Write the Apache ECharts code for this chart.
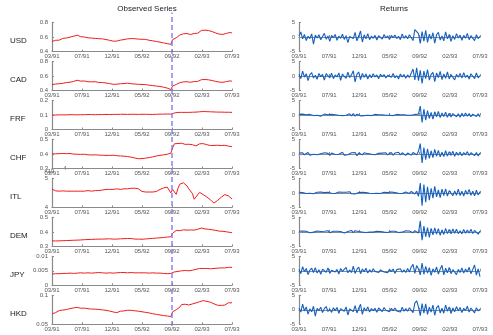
<!DOCTYPE html>
<html>
<head>
<meta charset="utf-8">
<script src="https://cdn.jsdelivr.net/npm/echarts@6/dist/echarts.min.js"></script>
<style>
html, body { margin: 0; padding: 0; background: #fff; }
#show_picture { width: 493px; height: 335px; }
</style>
</head>
<body>
<div id="show_picture"></div>
<script>
// x axis is the observation index, ticks every 100 obs
const tickLabels = ['03/91', '07/91', '12/91', '05/92', '09/92', '02/93', '07/93'];
const currencies = ['USD', 'CAD', 'FRF', 'CHF', 'ITL', 'DEM', 'JPY', 'HKD'];
const obsStep = 6;       // spacing of the sampled points (in observations)
const breakObs = 400;    // 09/92, the dashed line

// observed series (levels)
const usd = [
    0.540, 0.548, 0.556, 0.562, 0.558, 0.570, 0.582, 0.578, 0.588, 0.592,
    0.600, 0.604, 0.612, 0.620, 0.626, 0.618, 0.605, 0.598, 0.602, 0.592,
    0.590, 0.594, 0.586, 0.588, 0.582, 0.585, 0.578, 0.580, 0.576, 0.572,
    0.566, 0.562, 0.556, 0.550, 0.544, 0.536, 0.545, 0.552, 0.558, 0.556,
    0.566, 0.572, 0.576, 0.582, 0.580, 0.584, 0.578, 0.575, 0.572, 0.574,
    0.570, 0.566, 0.568, 0.560, 0.556, 0.552, 0.548, 0.546, 0.540, 0.536,
    0.530, 0.526, 0.520, 0.516, 0.510, 0.503, 0.500, 0.565, 0.575, 0.590,
    0.612, 0.628, 0.640, 0.646, 0.642, 0.648, 0.640, 0.636, 0.645, 0.650,
    0.658, 0.654, 0.680, 0.692, 0.700, 0.696, 0.702, 0.690, 0.684, 0.676,
    0.668, 0.656, 0.646, 0.640, 0.642, 0.638, 0.648, 0.652, 0.660, 0.664, 0.656
];
const cad = [
    0.482, 0.486, 0.490, 0.488, 0.494, 0.498, 0.500, 0.506, 0.510, 0.512,
    0.515, 0.520, 0.526, 0.534, 0.542, 0.538, 0.530, 0.528, 0.532, 0.524,
    0.522, 0.526, 0.520, 0.518, 0.522, 0.515, 0.512, 0.516, 0.510, 0.506,
    0.504, 0.500, 0.496, 0.490, 0.486, 0.480, 0.488, 0.492, 0.494, 0.490,
    0.496, 0.500, 0.502, 0.498, 0.494, 0.496, 0.490, 0.488, 0.486, 0.488,
    0.484, 0.480, 0.482, 0.476, 0.474, 0.470, 0.468, 0.466, 0.462, 0.460,
    0.456, 0.452, 0.446, 0.440, 0.434, 0.424, 0.414, 0.462, 0.472, 0.484,
    0.496, 0.508, 0.514, 0.520, 0.516, 0.522, 0.518, 0.514, 0.520, 0.524,
    0.528, 0.526, 0.540, 0.550, 0.556, 0.552, 0.558, 0.548, 0.544, 0.538,
    0.532, 0.526, 0.520, 0.516, 0.518, 0.514, 0.520, 0.524, 0.530, 0.534, 0.528
];
const frf = [
    0.100, 0.101, 0.100, 0.101, 0.101, 0.100, 0.101, 0.102, 0.101, 0.101,
    0.102, 0.101, 0.102, 0.102, 0.101, 0.102, 0.102, 0.103, 0.102, 0.102,
    0.103, 0.102, 0.103, 0.103, 0.102, 0.103, 0.103, 0.104, 0.103, 0.103,
    0.104, 0.104, 0.103, 0.104, 0.104, 0.103, 0.104, 0.104, 0.105, 0.104,
    0.105, 0.105, 0.104, 0.105, 0.105, 0.104, 0.105, 0.105, 0.104, 0.105,
    0.105, 0.104, 0.105, 0.104, 0.104, 0.105, 0.104, 0.104, 0.105, 0.105,
    0.106, 0.106, 0.106, 0.107, 0.107, 0.107, 0.106, 0.112, 0.114, 0.116,
    0.118, 0.117, 0.118, 0.119, 0.118, 0.119, 0.118, 0.118, 0.119, 0.120,
    0.120, 0.121, 0.122, 0.123, 0.124, 0.123, 0.123, 0.122, 0.122, 0.121,
    0.121, 0.120, 0.120, 0.119, 0.120, 0.119, 0.119, 0.120, 0.119, 0.118, 0.118
];
const chf = [
    0.400, 0.402, 0.401, 0.399, 0.402, 0.401, 0.403, 0.400, 0.402, 0.404,
    0.403, 0.401, 0.399, 0.400, 0.398, 0.399, 0.397, 0.396, 0.398, 0.395,
    0.394, 0.396, 0.393, 0.392, 0.394, 0.391, 0.392, 0.390, 0.391, 0.389,
    0.390, 0.392, 0.390, 0.393, 0.391, 0.389, 0.388, 0.389, 0.386, 0.387,
    0.385, 0.384, 0.382, 0.380, 0.378, 0.375, 0.372, 0.369, 0.367, 0.366,
    0.368, 0.369, 0.371, 0.373, 0.375, 0.378, 0.380, 0.383, 0.386, 0.388,
    0.390, 0.392, 0.394, 0.396, 0.398, 0.402, 0.405, 0.442, 0.470, 0.478,
    0.472, 0.468, 0.474, 0.470, 0.466, 0.462, 0.467, 0.470, 0.464, 0.458,
    0.455, 0.462, 0.470, 0.468, 0.471, 0.466, 0.464, 0.460, 0.458, 0.456,
    0.459, 0.462, 0.460, 0.456, 0.458, 0.455, 0.460, 0.458, 0.454, 0.452, 0.450
];
const itl = [
    4.63, 4.60, 4.57, 4.54, 4.56, 4.58, 4.57, 4.55, 4.56, 4.55,
    4.56, 4.55, 4.56, 4.57, 4.56, 4.55, 4.56, 4.57, 4.56, 4.57,
    4.58, 4.57, 4.56, 4.57, 4.58, 4.57, 4.58, 4.59, 4.60, 4.61,
    4.62, 4.61, 4.62, 4.63, 4.62, 4.63, 4.64, 4.63, 4.62, 4.63,
    4.64, 4.63, 4.64, 4.65, 4.66, 4.67, 4.66, 4.67, 4.64, 4.58,
    4.55, 4.54, 4.53, 4.54, 4.53, 4.54, 4.53, 4.54, 4.55, 4.56,
    4.62, 4.65, 4.67, 4.69, 4.70, 4.71, 4.50, 4.62, 4.60, 4.45,
    4.66, 4.80, 4.86, 4.85, 4.82, 4.74, 4.64, 4.58, 4.48, 4.28,
    4.36, 4.42, 4.52, 4.56, 4.44, 4.40, 4.36, 4.32, 4.26, 4.20,
    4.15, 4.18, 4.24, 4.30, 4.35, 4.40, 4.44, 4.47, 4.40, 4.36, 4.29
];
const dem = [
    0.338, 0.336, 0.337, 0.339, 0.338, 0.340, 0.339, 0.341, 0.340, 0.342,
    0.341, 0.343, 0.342, 0.344, 0.343, 0.345, 0.344, 0.345, 0.346, 0.345,
    0.347, 0.346, 0.348, 0.347, 0.349, 0.348, 0.350, 0.351, 0.350, 0.352,
    0.351, 0.350, 0.352, 0.351, 0.350, 0.349, 0.350, 0.351, 0.352, 0.351,
    0.353, 0.352, 0.354, 0.353, 0.354, 0.352, 0.350, 0.349, 0.350, 0.348,
    0.349, 0.350, 0.351, 0.352, 0.353, 0.354, 0.355, 0.356, 0.357, 0.358,
    0.359, 0.360, 0.361, 0.362, 0.364, 0.365, 0.366, 0.390, 0.402, 0.410,
    0.412, 0.408, 0.411, 0.414, 0.410, 0.412, 0.409, 0.413, 0.415, 0.412,
    0.414, 0.418, 0.422, 0.426, 0.424, 0.420, 0.421, 0.418, 0.416, 0.414,
    0.412, 0.410, 0.407, 0.405, 0.406, 0.404, 0.402, 0.400, 0.398, 0.396, 0.394
];
const jpy = [
    0.0039, 0.0039, 0.0040, 0.0040, 0.0040, 0.0041, 0.0041, 0.0041, 0.0041, 0.0042,
    0.0042, 0.0042, 0.0041, 0.0042, 0.0042, 0.0042, 0.0043, 0.0042, 0.0042, 0.0043,
    0.0043, 0.0043, 0.0042, 0.0043, 0.0043, 0.0043, 0.0044, 0.0043, 0.0043, 0.0043,
    0.0042, 0.0043, 0.0043, 0.0043, 0.0042, 0.0042, 0.0043, 0.0043, 0.0044, 0.0044,
    0.0044, 0.0044, 0.0043, 0.0044, 0.0044, 0.0044, 0.0043, 0.0043, 0.0043, 0.0044,
    0.0043, 0.0043, 0.0043, 0.0043, 0.0042, 0.0043, 0.0043, 0.0042, 0.0042, 0.0042,
    0.0042, 0.0041, 0.0041, 0.0040, 0.0040, 0.0040, 0.0041, 0.0045, 0.0046, 0.0047,
    0.0048, 0.0049, 0.0050, 0.0050, 0.0051, 0.0051, 0.0050, 0.0051, 0.0052, 0.0053,
    0.0055, 0.0057, 0.0058, 0.0058, 0.0058, 0.0057, 0.0058, 0.0058, 0.0057, 0.0058,
    0.0058, 0.0059, 0.0059, 0.0060, 0.0060, 0.0061, 0.0060, 0.0061, 0.0062, 0.0063, 0.0062
];
const hkd = [
    0.0680, 0.0695, 0.0700, 0.0720, 0.0735, 0.0728, 0.0745, 0.0740, 0.0752, 0.0760,
    0.0770, 0.0775, 0.0782, 0.0788, 0.0790, 0.0782, 0.0776, 0.0772, 0.0778, 0.0770,
    0.0768, 0.0765, 0.0762, 0.0758, 0.0760, 0.0752, 0.0755, 0.0750, 0.0748, 0.0745,
    0.0740, 0.0735, 0.0728, 0.0722, 0.0712, 0.0685, 0.0700, 0.0715, 0.0725, 0.0722,
    0.0730, 0.0735, 0.0742, 0.0745, 0.0740, 0.0738, 0.0732, 0.0728, 0.0725, 0.0720,
    0.0715, 0.0712, 0.0705, 0.0700, 0.0695, 0.0690, 0.0682, 0.0675, 0.0670, 0.0662,
    0.0660, 0.0655, 0.0650, 0.0648, 0.0642, 0.0638, 0.0632, 0.0715, 0.0735, 0.0750,
    0.0778, 0.0795, 0.0840, 0.0852, 0.0845, 0.0838, 0.0832, 0.0842, 0.0850, 0.0865,
    0.0868, 0.0862, 0.0888, 0.0902, 0.0908, 0.0900, 0.0895, 0.0892, 0.0880, 0.0865,
    0.0852, 0.0840, 0.0828, 0.0820, 0.0825, 0.0832, 0.0830, 0.0852, 0.0870, 0.0882, 0.0870
];

// returns
const usdRet = [
    0.4, 1.8, -0.6, 0.9, -1.2, 0.3, -0.5, 1.1, -2.4, 0.7,
    -0.3, 0.8, -0.9, 0.2, 1.3, -0.7, 0.4, -1.5, 0.6, -0.2,
    0.9, -1.1, 0.3, -0.4, 1.0, -0.8, 0.5, -1.9, 0.2, 0.7,
    -0.5, 1.6, -1.3, 0.4, 2.1, -1.7, 0.8, -0.6, 1.2, -0.9,
    0.3, -0.4, 0.6, -1.0, 0.5, 0.2, -0.7, 0.9, -0.3, 0.4,
    -0.8, 0.6, -0.2, 0.7, -0.5, 0.3, -0.9, 1.1, -0.4, 0.5,
    -0.6, 0.8, 1.4, -1.2, 2.6, 3.0, 1.2, -2.2, 1.9, -1.4,
    2.3, -1.8, 1.0, -0.7, 1.5, -2.1, 0.8, 1.6, -1.0, 0.4,
    -1.3, 1.8, -0.6, 0.9, -1.5, 0.5, -0.8, 1.2, -0.3, 0.7,
    -1.1, 0.6, -0.4, 1.3, -0.9, 0.5, 1.0, -1.2, 0.8, -0.5, 0.3
];
const cadRet = [
    0.6, -0.9, 1.7, -0.4, 0.8, -1.6, 0.5, 1.2, -0.7, 0.3,
    -1.1, 0.9, -0.2, 0.6, -1.4, 0.8, 0.2, -0.6, 1.0, -0.9,
    0.4, -0.3, 1.1, -1.5, 0.7, 0.2, -0.8, 1.3, -0.5, 0.4,
    1.8, -2.0, 0.6, 1.4, -1.2, 0.9, -0.4, 0.7, -1.0, 0.5,
    -0.6, 0.8, -0.3, 0.4, -0.9, 0.6, -0.2, 0.5, -0.7, 0.3,
    0.6, -0.4, 0.9, -0.6, 0.2, -1.0, 0.7, -0.3, 0.5, -0.8,
    0.4, -0.5, 1.0, 2.4, -1.3, 2.8, -1.6, 2.0, -2.5, 1.7,
    -0.9, 2.2, -1.4, 0.6, 1.3, -1.9, 1.1, -0.5, 1.6, -1.2,
    0.7, -0.8, 1.4, -1.0, 0.5, 1.1, -1.3, 0.6, -0.4, 0.9,
    -0.7, 1.2, -0.5, 0.3, -1.0, 0.8, 0.5, -0.9, 1.1, -0.6, 0.2
];
const frfRet = [
    0.2, -0.1, 0.3, -0.2, 0.1, -0.3, 0.2, 0.1, -0.2, 0.3,
    -0.1, 0.2, -0.4, 0.1, 0.3, -0.2, 0.1, -0.1, 0.2, -0.3,
    0.1, 0.2, -0.1, 0.3, -0.2, 0.1, -0.1, 0.2, 0.4, -0.3,
    0.5, -0.4, 0.3, 0.2, -0.3, 0.1, -0.2, 0.2, -0.1, 0.1,
    -0.2, 0.1, 0.2, -0.1, 0.1, -0.2, 0.1, 0.1, -0.1, 0.2,
    -0.1, 0.1, -0.2, 0.1, 0.2, -0.1, 0.1, -0.2, 0.1, 0.1,
    -0.1, 0.2, -0.1, 0.1, 0.2, -0.2, 0.3, 3.1, -2.6, 2.0,
    -1.8, 1.5, -1.2, 0.9, -1.4, 1.1, -0.6, 1.2, -0.9, 0.7,
    -0.5, 1.0, -0.8, 0.6, -0.7, 0.5, 0.9, -0.6, 0.4, -0.8,
    0.6, -0.5, 0.7, -0.4, 0.5, -0.6, 0.3, 0.8, -0.5, 0.4, -0.7
];
const chfRet = [
    0.3, -0.2, 0.4, -0.3, 0.1, 0.5, -0.4, 0.2, -0.1, 0.3,
    -0.3, 0.2, 0.1, -0.2, 0.4, -0.1, 0.2, -0.5, 0.3, 0.1,
    -0.2, 0.3, -0.1, 0.2, 0.6, -0.4, 0.2, -0.3, 0.1, 0.4,
    -0.2, 0.5, -0.6, 0.3, 0.2, -0.3, 0.4, -0.2, 0.1, 0.3,
    -0.1, 0.2, -0.3, 0.1, 0.2, -0.2, 0.3, -0.1, 0.4, -0.3,
    0.2, 0.5, -0.4, 0.3, -0.2, 0.6, -0.3, 0.4, 0.2, -0.5,
    0.3, 0.6, -0.4, 0.5, 0.7, -0.3, 0.9, 3.6, -3.1, 2.2,
    -2.0, 1.8, -1.5, 1.1, -1.3, 1.6, -0.8, 1.2, -1.0, 0.6,
    -0.9, 1.1, -0.7, 0.8, -0.5, 0.9, -0.8, 0.6, -0.4, 0.7,
    -0.6, 0.5, -0.3, 0.8, -0.5, 0.4, 0.9, -0.6, 0.5, -0.7, 0.3
];
const itlRet = [
    0.2, -0.3, 0.1, 0.4, -0.2, 0.3, -0.1, 0.2, -0.3, 0.1,
    0.2, -0.1, 0.3, -0.2, 0.1, -0.2, 0.2, 0.1, -0.1, 0.2,
    -0.2, 0.1, 0.3, -0.1, 0.2, -0.3, 0.2, 0.1, 0.4, -0.3,
    0.3, -0.4, 0.2, 0.1, -0.2, 0.2, -0.1, 0.1, 0.2, -0.1,
    0.1, -0.2, 0.2, -0.1, 0.3, -0.2, 0.1, 0.2, -0.3, 0.1,
    -0.4, 0.3, -0.2, 0.1, 0.2, -0.1, 0.3, -0.2, 0.2, 0.3,
    0.4, -0.2, 0.5, 0.3, -0.4, 0.6, -1.2, 3.4, -4.4, 2.9,
    -3.2, 2.1, -2.5, 1.6, -1.8, 2.3, -1.4, 1.0, -1.6, 1.3,
    -0.9, 1.4, -1.1, 0.8, 1.2, -1.0, 0.7, -0.8, 1.3, -0.9,
    0.6, -1.1, 0.9, -0.5, 1.2, -0.8, 0.6, -1.0, 0.9, -0.7, 0.4
];
const demRet = [
    0.2, -0.1, 0.3, -0.2, 0.2, 0.1, -0.3, 0.2, -0.1, 0.1,
    0.3, -0.2, 0.1, -0.1, 0.2, -0.2, 0.4, -0.3, 0.1, 0.2,
    -0.1, 0.2, -0.2, 0.1, 0.3, -0.4, 0.2, 0.1, -0.2, 0.5,
    -0.3, 0.4, -0.2, 0.1, 0.2, -0.1, 0.3, -0.2, 0.1, -0.1,
    0.2, -0.1, 0.1, 0.2, -0.2, 0.1, 0.3, -0.1, 0.2, -0.2,
    0.1, 0.2, -0.3, 0.2, 0.1, -0.2, 0.3, -0.1, 0.2, 0.4,
    -0.2, 0.3, 0.5, -0.3, 0.4, 0.6, -0.4, 3.8, -2.9, 2.0,
    -1.7, 1.5, -1.9, 1.2, -1.0, 1.4, -0.8, 1.1, -1.2, 0.7,
    -0.9, 1.2, -0.6, 0.8, -0.7, 1.0, -0.5, 0.9, -0.6, 0.4,
    -0.7, 0.8, -0.5, 0.6, -0.4, 0.9, -0.6, 0.5, 0.7, -0.8, 0.3
];
const jpyRet = [
    0.5, -1.0, 1.4, -0.3, 0.8, -1.3, 0.2, 0.9, -0.6, 1.1,
    -0.8, 0.4, -1.2, 0.6, 0.3, -0.5, 1.0, -0.9, 0.2, 0.7,
    -0.4, 0.5, -1.1, 0.8, -0.2, 0.4, 1.2, -0.7, 0.3, -0.6,
    1.6, -0.9, 0.5, 1.3, -1.0, 0.6, -0.3, 0.9, -0.8, 0.4,
    -0.5, 0.7, -0.2, 0.4, -0.6, 0.3, 0.8, -0.4, 0.2, -0.7,
    0.5, -0.3, 0.6, -0.9, 0.4, -0.2, 0.7, -0.5, 0.3, -0.6,
    0.8, -0.4, 1.3, 2.2, -0.9, 1.8, 0.6, -1.4, 2.7, -1.2,
    1.5, -0.8, 1.1, -1.6, 0.7, -0.5, 1.3, -1.1, 0.6, 1.9,
    -1.4, 0.9, -0.7, 1.2, -1.0, 0.4, 0.8, -1.3, 0.5, -0.6,
    1.0, -0.8, 0.6, -0.4, 1.2, -1.0, 0.5, 2.0, -1.5, 0.7, -2.0
];
const hkdRet = [
    0.6, -0.8, 1.9, -0.4, 1.0, -1.5, 0.3, -0.7, 1.2, -2.2,
    0.5, -0.3, 0.9, -1.0, 0.4, 1.1, -0.6, 0.2, -0.9, 0.7,
    -0.3, 0.8, -1.2, 0.4, 0.6, -0.5, 1.0, -1.8, 0.3, 0.5,
    -0.6, 1.4, -1.1, 0.5, 1.9, -1.6, 0.7, -0.4, 1.0, -0.8,
    0.4, -0.3, 0.5, -0.9, 0.6, 0.1, -0.6, 0.8, -0.2, 0.3,
    -0.7, 0.5, -0.3, 0.6, -0.4, 0.2, -0.8, 0.9, -0.5, 0.4,
    -0.5, 0.7, 1.2, -1.0, 2.3, 3.1, 1.0, -2.0, 2.1, -1.2,
    2.0, -1.6, 0.9, -0.8, 1.6, -1.9, 0.7, 1.4, -1.1, 0.5,
    -1.2, 1.6, -0.5, 1.0, -1.3, 0.6, -0.7, 1.1, -0.4, 0.8,
    -1.0, 0.5, -0.3, 1.2, -0.8, 0.6, 0.9, -1.1, 0.7, -0.4, 0.2
];

const observed = [usd, cad, frf, chf, itl, dem, jpy, hkd];
const returns = [usdRet, cadRet, frfRet, chfRet, itlRet, demRet, jpyRet, hkdRet];
// y axis ranges of the level panels: [min, max, interval]
const levelAxes = [
    [0.4, 0.8, 0.2], [0.4, 0.8, 0.2], [0, 0.2, 0.1], [0.3, 0.5, 0.1],
    [4, 5, 1], [0.3, 0.5, 0.1], [0, 0.01, 0.005], [0.05, 0.1, 0.05]
];
const returnAxis = [-5, 5, 5];

let show_picture = document.getElementById('show_picture');
let myChart = echarts.init(show_picture);

const font = 'Liberation Sans, Arial, Helvetica, sans-serif';
const axisGray = '#8a8a8a';
const rowTop = 22.6, rowPitch = 38.95, rowHeight = 29;

let grids = [], xAxes = [], yAxes = [], series = [], titles = [];

function addPanel(left, width, top, values, range, color, lw) {
    let idx = grids.length;
    grids.push({left: left, width: width, top: top, height: rowHeight});
    xAxes.push({
        gridIndex: idx, type: 'value', min: 0, max: 600, interval: 100,
        axisLine: {show: true, lineStyle: {color: axisGray, width: 1.2}},
        axisTick: {show: true, inside: true, length: 2, lineStyle: {color: axisGray}},
        axisLabel: {
            fontSize: 6, color: '#555', margin: 2, fontFamily: font,
            formatter: v => tickLabels[Math.round(v / 100)]
        },
        splitLine: {show: false}
    });
    yAxes.push({
        gridIndex: idx, type: 'value', min: range[0], max: range[1], interval: range[2],
        axisLine: {show: true, lineStyle: {color: axisGray, width: 1.2}},
        axisTick: {show: true, inside: true, length: 2, lineStyle: {color: axisGray}},
        axisLabel: {fontSize: 6, color: '#555', margin: 4, fontFamily: font},
        splitLine: {show: false}
    });
    series.push({
        type: 'line', xAxisIndex: idx, yAxisIndex: idx,
        data: values.map((v, k) => [k * obsStep, v]),
        showSymbol: false, silent: true,
        lineStyle: {color: color, width: lw}
    });
}

for (let r = 0; r < currencies.length; r++) {
    let top = rowTop + r * rowPitch;
    addPanel(52, 180, top, observed[r], levelAxes[r], '#f01c1c', 1);
    addPanel(299, 181, top, returns[r], returnAxis, '#1460c0', 1.1);
    titles.push({
        text: currencies[r], left: 5, top: top + rowHeight / 2 - 5,
        textStyle: {fontSize: 8, fontWeight: 'normal', color: '#222', fontFamily: font}
    });
}

titles.push({
    text: 'Observed Series', left: 142, top: 0, textAlign: 'center',
    textStyle: {fontSize: 8, fontWeight: 'normal', color: '#222', fontFamily: font}
});
titles.push({
    text: 'Returns', left: 389, top: 0, textAlign: 'center',
    textStyle: {fontSize: 8, fontWeight: 'normal', color: '#222', fontFamily: font}
});

// dashed break line through the whole left column
let bi = grids.length;
grids.push({left: 52, width: 180, top: 12.5, height: 313.5});
xAxes.push({gridIndex: bi, type: 'value', min: 0, max: 600, show: false});
yAxes.push({gridIndex: bi, type: 'value', min: 0, max: 1, show: false});
series.push({
    type: 'line', xAxisIndex: bi, yAxisIndex: bi, z: 5,
    data: [[breakObs, 0], [breakObs, 1]],
    showSymbol: false, silent: true,
    lineStyle: {color: '#7b72e6', width: 1.3, type: [5, 3]}
});

let option = {
    animation: false,
    title: titles,
    grid: grids,
    xAxis: xAxes,
    yAxis: yAxes,
    series: series,
    graphic: [{
        type: 'text', left: 44, top: 166,
        style: {
            text: '×10{s|-4}', fontSize: 6, fill: '#555', fontFamily: font,
            rich: {s: {fontSize: 5, verticalAlign: 'top', padding: [0, 0, 6, 8]}}
        }
    }]
};

option && myChart.setOption(option);
</script>
</body>
</html>
